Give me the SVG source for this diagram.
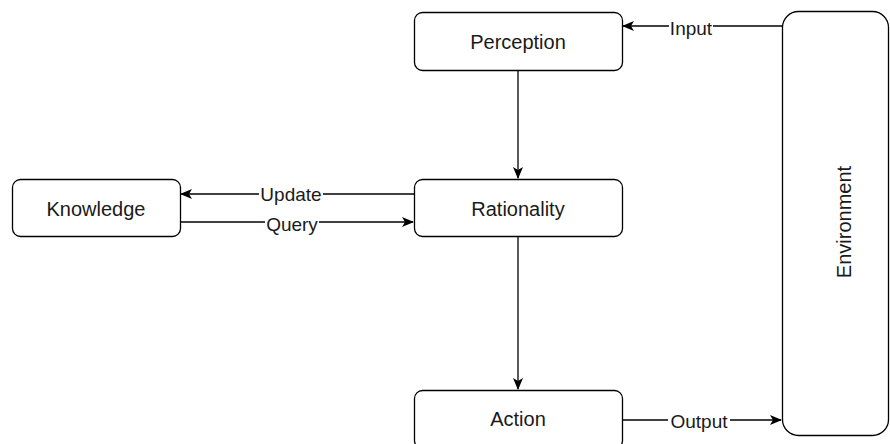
<svg xmlns="http://www.w3.org/2000/svg" width="890" height="444" viewBox="0 0 890 444">
<defs>
<style>
.node{fill:#fff;stroke:#000;stroke-width:1.3}
.t{font-family:"Liberation Sans",Arial,sans-serif;font-size:20px;fill:#1a1a1a;text-anchor:middle;dominant-baseline:central}
.l{font-family:"Liberation Sans",Arial,sans-serif;font-size:19px;fill:#1a1a1a;text-anchor:middle;dominant-baseline:central}
.e{fill:none;stroke:#000;stroke-width:1.3}
.bg{fill:#fff}
</style>
<marker id="a" viewBox="0 0 12 10" refX="11" refY="5" markerWidth="12" markerHeight="10" markerUnits="userSpaceOnUse" orient="auto">
<path d="M0,0 L12,5 L0,10 L3,5 Z" fill="#000"/>
</marker>
</defs>
<g id="connectors">
<path class="e" d="M782,26 L623,26" marker-end="url(#a)"/>
<rect class="bg" x="669" y="18" width="44" height="20"/>
<text class="l" x="691" y="28">Input</text>
<path class="e" d="M518,70 L518,178" marker-end="url(#a)"/>
<path class="e" d="M414,194 L181,194" marker-end="url(#a)"/>
<rect class="bg" x="259" y="184" width="64" height="20"/>
<text class="l" x="291" y="194">Update</text>
<path class="e" d="M180,222 L413,222" marker-end="url(#a)"/>
<rect class="bg" x="265" y="212" width="54" height="20"/>
<text class="l" x="292" y="224">Query</text>
<path class="e" d="M518,236 L518,389" marker-end="url(#a)"/>
<path class="e" d="M622,420 L781,420" marker-end="url(#a)"/>
<rect class="bg" x="668" y="410" width="62" height="20"/>
<text class="l" x="699" y="421">Output</text>
</g>
<g id="perception">
<rect class="node" x="414.5" y="12.5" width="208" height="58" rx="8"/>
<text class="t" x="518" y="42">Perception</text>
</g>
<g id="rationality">
<rect class="node" x="414.5" y="179.5" width="208" height="57" rx="8"/>
<text class="t" x="518" y="209">Rationality</text>
</g>
<g id="knowledge">
<rect class="node" x="12.5" y="179.5" width="168" height="57" rx="8"/>
<text class="t" x="96" y="209">Knowledge</text>
</g>
<g id="action">
<rect class="node" x="414.5" y="390.5" width="208" height="58" rx="8"/>
<text class="t" x="518" y="419">Action</text>
</g>
<g id="environment">
<rect class="node" x="782.5" y="11.5" width="106" height="424" rx="16"/>
<text class="t" transform="translate(844,222) rotate(-90)">Environment</text>
</g>
</svg>
